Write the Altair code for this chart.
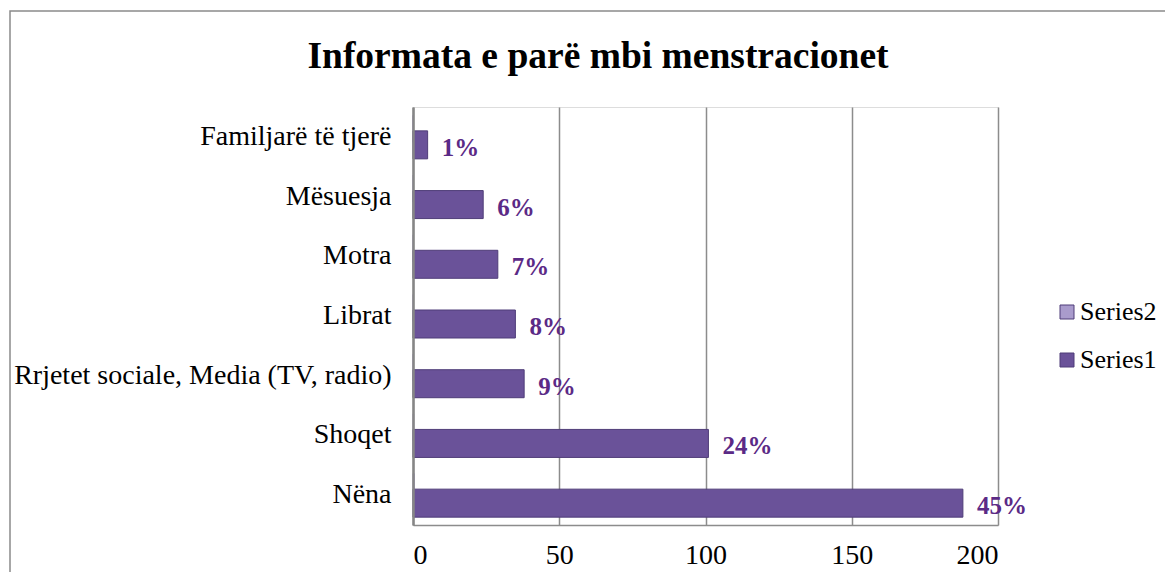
import altair as alt
import pandas as pd

categories = ["Familjarë të tjerë", "Mësuesja", "Motra", "Librat",
              "Rrjetet sociale, Media (TV, radio)", "Shoqet", "Nëna"]
series1 = [5, 24, 29, 35, 38, 101, 188]
series2 = [0.01, 0.06, 0.07, 0.08, 0.09, 0.24, 0.45]
labels = ["1%", "6%", "7%", "8%", "9%", "24%", "45%"]
x_ticks = [0, 50, 100, 150, 200]
chart_title = "Informata e parë mbi menstracionet"

df1 = pd.DataFrame({"cat": categories, "value": series1, "series": "Series1", "label": labels})
df2 = pd.DataFrame({"cat": categories, "value": series2, "series": "Series2"})

FONT = "Liberation Serif"

y_enc = alt.Y("cat:N", sort=categories, title=None,
              scale=alt.Scale(paddingInner=0, paddingOuter=0),
              axis=alt.Axis(ticks=False, labelPadding=22, zindex=1, labelLimit=500))
x_enc = alt.X("value:Q", title=None,
              scale=alt.Scale(domain=[0, 200], nice=False),
              axis=alt.Axis(values=x_ticks, ticks=False, labelPadding=16, grid=True))
color_enc = alt.Color("series:N",
                      scale=alt.Scale(domain=["Series2", "Series1"], range=["#A99BCC", "#6A5299"]),
                      legend=alt.Legend(title=None, orient="none", legendX=641, legendY=192))

bars1 = alt.Chart(df1).mark_bar(height=28, yOffset=8, stroke="#4F3D78", strokeWidth=1).encode(
    y=y_enc, x=x_enc, color=color_enc)
bars2 = alt.Chart(df2).mark_bar(height=27, yOffset=-8, stroke="#A99BCC", strokeWidth=1).encode(
    y=y_enc, x=x_enc, color=color_enc)
text = alt.Chart(df1).mark_text(align="left", baseline="middle", dx=14, dy=11,
                                font=FONT, fontSize=25, fontWeight="bold", color="#5B2A86").encode(
    y=y_enc, x=x_enc, text="label:N")

frame = alt.Chart(alt.Data(values=[{"a": 1}])).mark_rect(
    filled=False, stroke="#8A8A8A", strokeWidth=1.5).encode(
    x=alt.value(-403), x2=alt.value(900), y=alt.value(-96), y2=alt.value(700))

title = alt.Chart(alt.Data(values=[{"t": chart_title}])).mark_text(
    font=FONT, fontSize=37.5, fontWeight="bold", color="black", align="center",
    baseline="alphabetic").encode(x=alt.value(185), y=alt.value(-39), text="t:N")

chart = alt.layer(frame, title, bars2, bars1, text).properties(
    width=585, height=418,
    autosize=alt.AutoSizeParams(type="none"),
    padding={"left": 405, "top": 99, "right": 167, "bottom": 47},
).configure_view(fill="#EAE8F3", strokeWidth=0).configure(
    background="white", font=FONT
).configure_axis(
    labelFont=FONT, labelFontSize=28, labelColor="black",
    gridColor="#8C8C8C", gridWidth=1.5
).configure_axisY(
    domainColor="#868686", domainWidth=2.5
).configure_axisX(
    domainColor="#8C8C8C", domainWidth=1.5
).configure_legend(
    symbolType="square", symbolSize=196,
    symbolStrokeColor="#4F3D78", symbolStrokeWidth=1,
    labelFont=FONT, labelFontSize=26, labelColor="black",
    labelOffset=0, rowPadding=22, padding=0
)

chart.save("out.html", embed_options={"renderer": "svg", "actions": False})
